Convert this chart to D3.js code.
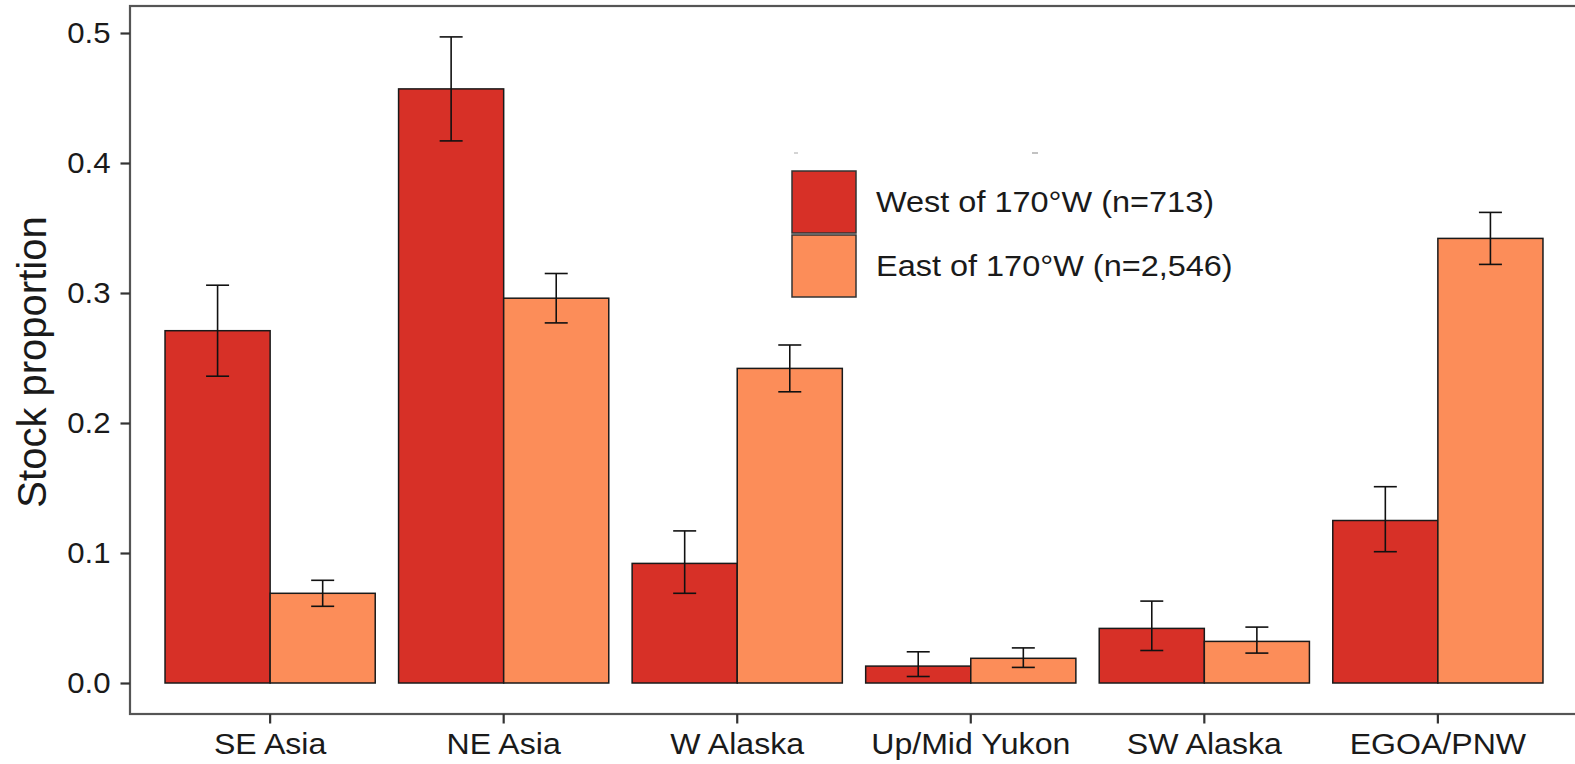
<!DOCTYPE html>
<html>
<head>
<meta charset="utf-8">
<script src="https://cdn.jsdelivr.net/npm/d3@7"></script>
<style>
  html, body { margin: 0; padding: 0; background: #fff; }
  svg { display: block; font-family: "Liberation Sans", Arial, Helvetica, sans-serif; }
</style>
</head>
<body>
<svg id="chart" width="1575" height="764"></svg>
<script>
// Stock groups on the x axis
const categories = ["SE Asia", "NE Asia", "W Alaska", "Up/Mid Yukon", "SW Alaska", "EGOA/PNW"];

// Sample groups (legend labels)
const seriesNames = ["West of 170°W (n=713)", "East of 170°W (n=2,546)"];

// Estimated stock proportions with lower / upper interval bounds
const westValues = [0.271, 0.457, 0.092, 0.013, 0.042, 0.125];
const westLower  = [0.236, 0.417, 0.069, 0.005, 0.025, 0.101];
const westUpper  = [0.306, 0.497, 0.117, 0.024, 0.063, 0.151];

const eastValues = [0.069, 0.296, 0.242, 0.019, 0.032, 0.342];
const eastLower  = [0.059, 0.277, 0.224, 0.012, 0.023, 0.322];
const eastUpper  = [0.079, 0.315, 0.260, 0.027, 0.043, 0.362];

const yTicks = [0.0, 0.1, 0.2, 0.3, 0.4, 0.5];

const fills = ["#d73027", "#fc8d59"];

const rows = [];
categories.forEach((c, i) => {
  rows.push({ cat: c, series: seriesNames[0], value: westValues[i], lo: westLower[i], hi: westUpper[i] });
  rows.push({ cat: c, series: seriesNames[1], value: eastValues[i], lo: eastLower[i], hi: eastUpper[i] });
});

const svg = d3.select("#chart");

// Panel geometry
const panel = { left: 130, right: 1578, top: 6, bottom: 714 };

const x = d3.scaleBand()
  .domain(categories)
  .range([panel.left, panel.right])
  .paddingInner(0.1)
  .paddingOuter(0.15);

const xInner = d3.scaleBand()
  .domain(seriesNames)
  .range([0, x.bandwidth()])
  .padding(0);

const y = d3.scaleLinear()
  .domain([0, 0.5])
  .range([683, 33]);

const color = d3.scaleOrdinal().domain(seriesNames).range(fills);

// Bars
svg.append("g")
  .selectAll("rect")
  .data(rows)
  .join("rect")
  .attr("x", d => x(d.cat) + xInner(d.series))
  .attr("y", d => y(d.value))
  .attr("width", xInner.bandwidth())
  .attr("height", d => y(0) - y(d.value))
  .attr("fill", d => color(d.series))
  .attr("stroke", "#1a1a1a")
  .attr("stroke-width", 1.5);

// Error bars
const capHalf = 11.5;
const eb = svg.append("g")
  .attr("stroke", "#111")
  .attr("stroke-width", 1.6)
  .attr("fill", "none");

rows.forEach(d => {
  const cx = x(d.cat) + xInner(d.series) + xInner.bandwidth() / 2;
  eb.append("line").attr("x1", cx).attr("x2", cx).attr("y1", y(d.lo)).attr("y2", y(d.hi));
  eb.append("line").attr("x1", cx - capHalf).attr("x2", cx + capHalf).attr("y1", y(d.hi)).attr("y2", y(d.hi));
  eb.append("line").attr("x1", cx - capHalf).attr("x2", cx + capHalf).attr("y1", y(d.lo)).attr("y2", y(d.lo));
});

// Panel border
svg.append("rect")
  .attr("x", panel.left)
  .attr("y", panel.top)
  .attr("width", panel.right - panel.left)
  .attr("height", panel.bottom - panel.top)
  .attr("fill", "none")
  .attr("stroke", "#555")
  .attr("stroke-width", 2.2);

// Y axis
const yAxis = svg.append("g")
  .attr("transform", `translate(${panel.left},0)`)
  .call(d3.axisLeft(y).tickValues(yTicks).tickFormat(d3.format(".1f")).tickSize(9.5).tickPadding(10));
yAxis.select(".domain").remove();
yAxis.selectAll(".tick line").attr("stroke", "#333").attr("stroke-width", 2.2);
yAxis.selectAll(".tick text")
  .attr("fill", "#1a1a1a")
  .attr("transform", "translate(-20.5,0) scale(1.04,1) translate(20.5,0)")
  .style("font-size", "30px")
  .style("font-family", "'Liberation Sans', Arial, sans-serif");

// X axis
const xAxis = svg.append("g")
  .attr("transform", `translate(0,${panel.bottom})`)
  .call(d3.axisBottom(x).tickSize(9.5).tickPadding(9));
xAxis.select(".domain").remove();
xAxis.selectAll(".tick line").attr("stroke", "#333").attr("stroke-width", 2.2);
xAxis.selectAll(".tick text")
  .attr("fill", "#1a1a1a")
  .attr("transform", "scale(1.07,1)")
  .style("font-size", "30px")
  .style("font-family", "'Liberation Sans', Arial, sans-serif");

// Y axis title
svg.append("text")
  .attr("transform", `translate(46,${(y(0.5) + y(0)) / 2 + 4}) rotate(-90)`)
  .attr("text-anchor", "middle")
  .attr("fill", "#1a1a1a")
  .style("font-size", "40px")
  .text("Stock proportion");

// Legend
const legend = svg.append("g").attr("transform", "translate(792,171)");
const keyW = 64, keyH = 62, keyGap = 2;
seriesNames.forEach((s, i) => {
  const gy = i * (keyH + keyGap);
  legend.append("rect")
    .attr("x", 0).attr("y", gy)
    .attr("width", keyW).attr("height", keyH)
    .attr("fill", color(s))
    .attr("stroke", "#333")
    .attr("stroke-width", 1.5);
  legend.append("text")
    .attr("transform", `translate(${keyW + 20},${gy + keyH / 2}) scale(1.12,1)`)
    .attr("dy", "0.36em")
    .attr("fill", "#1a1a1a")
    .style("font-size", "29px")
    .text(s);
});
// faint marks above the legend keys
legend.append("line").attr("x1", 2).attr("x2", 6).attr("y1", -18).attr("y2", -18)
  .attr("stroke", "#aaa").attr("stroke-width", 1);
legend.append("line").attr("x1", 240).attr("x2", 246).attr("y1", -18).attr("y2", -18)
  .attr("stroke", "#999").attr("stroke-width", 1.2);
</script>
</body>
</html>
